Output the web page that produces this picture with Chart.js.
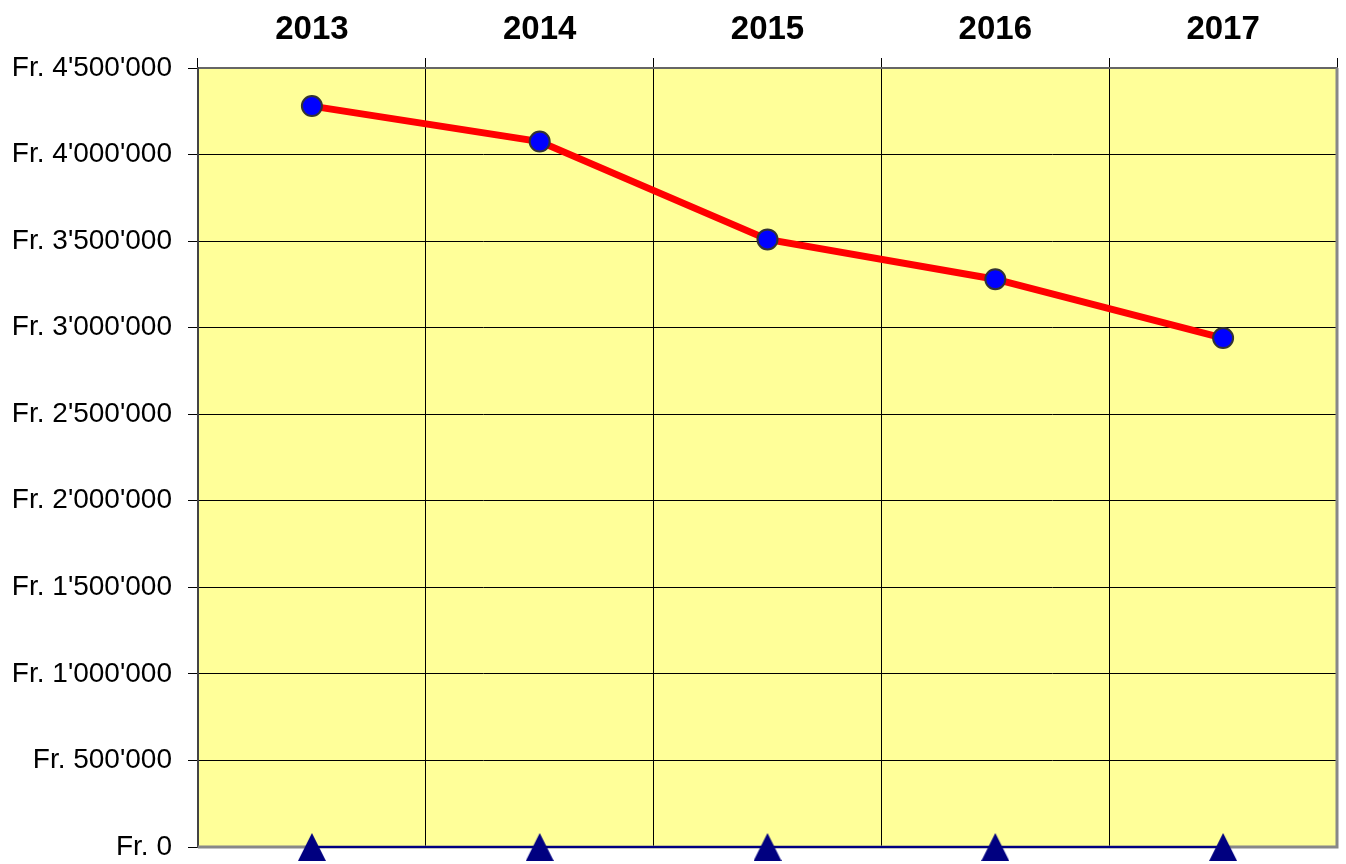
<!DOCTYPE html>
<html>
<head>
<meta charset="utf-8">
<script src="https://cdn.jsdelivr.net/npm/chart.js@4"></script>
<style>
  body { margin: 0; background: #fff; }
</style>
</head>
<body>
<canvas id="chart" width="1346" height="864"></canvas>
<script>
const years = ['2013', '2014', '2015', '2016', '2017'];
const amounts = [4280000, 4075000, 3510000, 3280000, 2940000];
const baseline = [0, 0, 0, 0, 0];
const yTicks = [0, 500000, 1000000, 1500000, 2000000, 2500000, 3000000, 3500000, 4000000, 4500000];

// navy triangle marker
const tri = document.createElement('canvas');
tri.width = 28;
tri.height = 28;
const tc = tri.getContext('2d');
tc.fillStyle = '#000080';
tc.beginPath();
tc.moveTo(14, 0);
tc.lineTo(28, 28);
tc.lineTo(0, 28);
tc.closePath();
tc.fill();

const fmt = (v) => 'Fr. ' + String(v).replace(/\B(?=(\d{3})+(?!\d))/g, "'");

const plotBg = {
  id: 'plotBg',
  beforeDraw(chart) {
    const { ctx, chartArea: a } = chart;
    ctx.save();
    ctx.fillStyle = '#FFFF99';
    ctx.fillRect(a.left, a.top, a.right - a.left, a.bottom - a.top);
    ctx.restore();
  },
  beforeDatasetsDraw(chart) {
    const { ctx, chartArea: a } = chart;
    ctx.save();
    ctx.strokeStyle = '#888888';
    ctx.lineWidth = 3;
    ctx.beginPath();
    ctx.moveTo(a.left, a.bottom);
    ctx.lineTo(a.right, a.bottom);
    ctx.lineTo(a.right, a.top);
    ctx.stroke();
    ctx.restore();
  }
};

new Chart(document.getElementById('chart'), {
  type: 'line',
  data: {
    labels: years,
    datasets: [
      {
        data: amounts,
        borderColor: '#FF0000',
        borderWidth: 7,
        pointRadius: 10,
        pointBackgroundColor: '#0000FF',
        pointBorderColor: '#333333',
        pointBorderWidth: 2,
        tension: 0
      },
      {
        data: baseline,
        borderColor: '#000080',
        borderWidth: 2,
        pointStyle: tri,
        pointRadius: 14,
        clip: false
      }
    ]
  },
  options: {
    responsive: false,
    animation: false,
    layout: { autoPadding: false, padding: { right: 9 } },
    plugins: {
      legend: { display: false },
      tooltip: { enabled: false }
    },
    scales: {
      x: {
        position: 'top',
        offset: true,
        grid: { offset: true, color: '#000000', lineWidth: 1, tickLength: 10 },
        border: { color: '#666666', width: 2 },
        ticks: {
          color: '#000000',
          padding: 8,
          font: { family: 'Liberation Sans, Arial', size: 33, weight: 'bold' }
        },
        afterFit(scale) { scale.height = 68; }
      },
      y: {
        min: 0,
        max: 4500000,
        afterBuildTicks(scale) { scale.ticks = yTicks.map((v) => ({ value: v })); },
        grid: { color: '#000000', lineWidth: 1, tickLength: 10 },
        border: { color: '#444444', width: 2 },
        ticks: {
          color: '#000000',
          padding: 16,
          font: { family: 'Liberation Sans, Arial', size: 28 },
          callback: (v) => fmt(v)
        },
        afterFit(scale) {
          scale.width = 198;
          scale.paddingTop = 0;
          scale.paddingBottom = 17;
        }
      }
    }
  },
  plugins: [plotBg]
});
</script>
</body>
</html>
